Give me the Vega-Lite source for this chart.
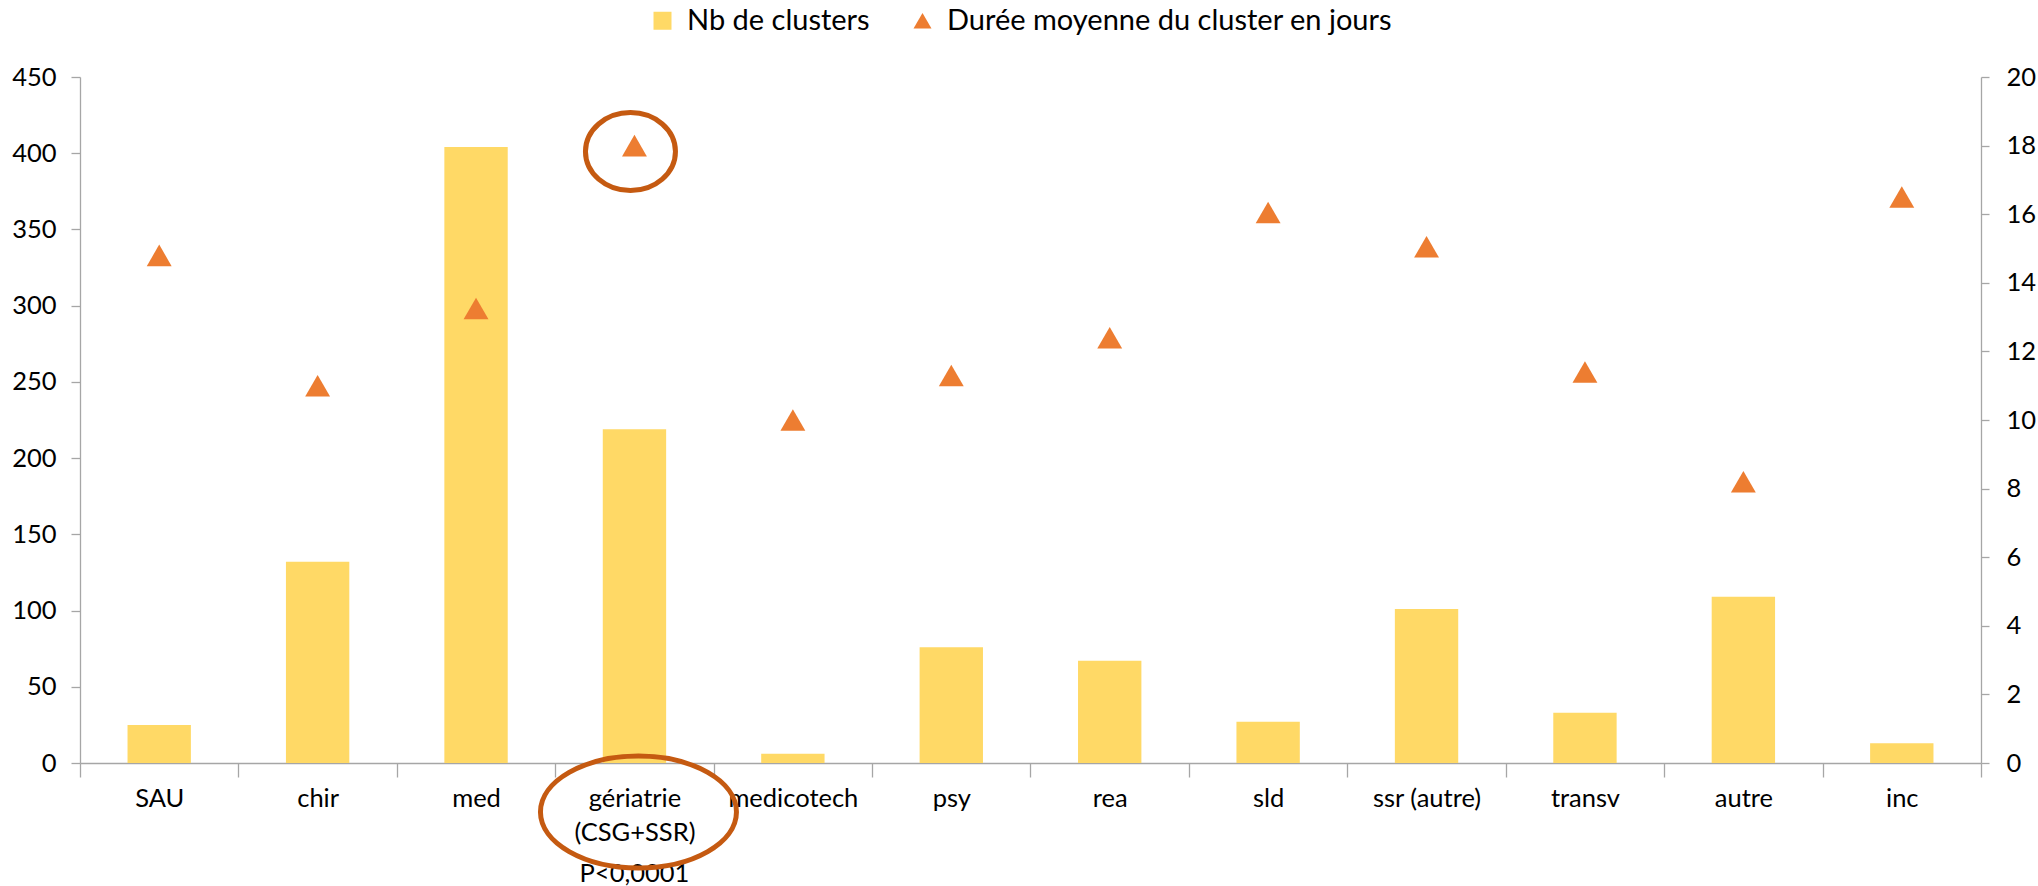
{
  "$schema": "https://vega.github.io/schema/vega-lite/v6.json",
  "width": 1901,
  "height": 686,
  "autosize": {"type": "none"},
  "padding": {"left": 80, "top": 77, "right": 57, "bottom": 123},
  "background": "white",
  "config": {"view": {"stroke": null}, "font": "Lato"},
  "data": {
    "values": [
      {"cat": "SAU", "nb": 25, "duree": 14.8},
      {"cat": "chir", "nb": 132, "duree": 11.0},
      {"cat": "med", "nb": 404, "duree": 13.25},
      {"cat": "gériatrie (CSG+SSR)", "nb": 219, "duree": 18.0},
      {"cat": "medicotech", "nb": 6, "duree": 10.0},
      {"cat": "psy", "nb": 76, "duree": 11.3},
      {"cat": "rea", "nb": 67, "duree": 12.4},
      {"cat": "sld", "nb": 27, "duree": 16.05},
      {"cat": "ssr (autre)", "nb": 101, "duree": 15.05},
      {"cat": "transv", "nb": 33, "duree": 11.4},
      {"cat": "autre", "nb": 109, "duree": 8.2},
      {"cat": "inc", "nb": 13, "duree": 16.5}
    ]
  },
  "layer": [
    {
      "layer": [
        {
          "mark": {"type": "bar", "width": {"band": 0.4}},
          "encoding": {
            "x": {
              "field": "cat",
              "type": "nominal",
              "sort": null,
              "title": null,
              "scale": {
                "domain": ["SAU", "chir", "med", "gériatrie (CSG+SSR)", "medicotech", "psy", "rea", "sld", "ssr (autre)", "transv", "autre", "inc"],
                "paddingInner": 0,
                "paddingOuter": 0
              },
              "axis": {
                "title": null,
                "labelAngle": 0,
                "tickBand": "extent",
                "tickSize": 14,
                "tickColor": "#A6A6A6",
                "domainColor": "#A6A6A6",
                "tickWidth": 1.3,
                "domainWidth": 1.3,
                "labelFont": "Lato",
                "labelFontSize": 25.5,
                "labelColor": "#000000",
                "labelPadding": 9,
                "labelLineHeight": 34,
                "labelLimit": 0,
                "labelOverlap": false,
                "labelExpr": "datum.value == 'gériatrie (CSG+SSR)' ? ['gériatrie', '(CSG+SSR)'] : datum.value"
              }
            },
            "y": {
              "field": "nb",
              "type": "quantitative",
              "title": null,
              "scale": {"domain": [0, 450], "nice": false},
              "axis": {
                "orient": "left",
                "title": null,
                "grid": false,
                "values": [0, 50, 100, 150, 200, 250, 300, 350, 400, 450],
                "tickSize": 9,
                "tickColor": "#A6A6A6",
                "domainColor": "#A6A6A6",
                "tickWidth": 1.3,
                "domainWidth": 1.3,
                "labelPadding": 15,
                "labelFont": "Lato",
                "labelFontSize": 25.5,
                "labelColor": "#000000"
              }
            },
            "color": {
              "datum": "Nb de clusters",
              "type": "nominal",
              "scale": {
                "domain": ["Nb de clusters", "Durée moyenne du cluster en jours"],
                "range": ["#FFD966", "#ED7D31"]
              },
              "legend": {
                "title": null,
                "orient": "none",
                "legendX": 568,
                "legendY": -71,
                "direction": "horizontal",
                "symbolSize": 324,
                "symbolStrokeWidth": 0,
                "labelFont": "Lato",
                "labelFontSize": 29,
                "labelColor": "#000000",
                "labelOffset": 10,
                "columnPadding": 38,
                "labelLimit": 0,
                "padding": 0,
                "encode": {
                  "symbols": {
                    "update": {
                      "shape": {"signal": "datum.value == 'Nb de clusters' ? 'square' : 'triangle-up'"},
                      "opacity": {"value": 1}
                    }
                  }
                }
              }
            }
          }
        },
        {
          "transform": [{"filter": "datum.cat == 'gériatrie (CSG+SSR)'"}],
          "mark": {"type": "text", "text": "P<0,0001", "font": "Lato", "fontSize": 25.5, "color": "#000000", "baseline": "alphabetic", "align": "center", "dy": 119},
          "encoding": {
            "x": {"field": "cat", "type": "nominal", "sort": null},
            "y": {"datum": 0, "type": "quantitative", "title": null}
          }
        },
        {
          "transform": [{"filter": "datum.cat == 'gériatrie (CSG+SSR)'"}],
          "mark": {
            "type": "point",
            "shape": "M-1,0A1,0.571 0 1,1 1,0A1,0.571 0 1,1 -1,0Z",
            "filled": false,
            "stroke": "#C55A11",
            "strokeWidth": 5,
            "opacity": 1,
            "size": 38416,
            "xOffset": 4,
            "yOffset": 49
          },
          "encoding": {
            "x": {"field": "cat", "type": "nominal", "sort": null},
            "y": {"datum": 0, "type": "quantitative", "title": null}
          }
        }
      ]
    },
    {
      "layer": [
        {
          "mark": {"type": "point", "shape": "triangle-up", "filled": true, "opacity": 1, "size": 620},
          "encoding": {
            "x": {"field": "cat", "type": "nominal", "sort": null},
            "y": {
              "field": "duree",
              "type": "quantitative",
              "title": null,
              "scale": {"domain": [0, 20], "nice": false},
              "axis": {
                "orient": "right",
                "title": null,
                "grid": false,
                "values": [0, 2, 4, 6, 8, 10, 12, 14, 16, 18, 20],
                "tickSize": 8,
                "tickColor": "#A6A6A6",
                "domainColor": "#A6A6A6",
                "tickWidth": 1.3,
                "domainWidth": 1.3,
                "labelPadding": 17,
                "labelFont": "Lato",
                "labelFontSize": 25.5,
                "labelColor": "#000000"
              }
            },
            "color": {"datum": "Durée moyenne du cluster en jours", "type": "nominal"}
          }
        },
        {
          "transform": [{"filter": "datum.cat == 'gériatrie (CSG+SSR)'"}],
          "mark": {
            "type": "point",
            "shape": "M-1,0A1,0.867 0 1,1 1,0A1,0.867 0 1,1 -1,0Z",
            "filled": false,
            "stroke": "#C55A11",
            "strokeWidth": 5,
            "opacity": 1,
            "size": 8100,
            "xOffset": -4,
            "yOffset": 6
          },
          "encoding": {
            "x": {"field": "cat", "type": "nominal", "sort": null},
            "y": {"field": "duree", "type": "quantitative", "title": null}
          }
        }
      ]
    }
  ],
  "resolve": {"scale": {"y": "independent"}}
}
